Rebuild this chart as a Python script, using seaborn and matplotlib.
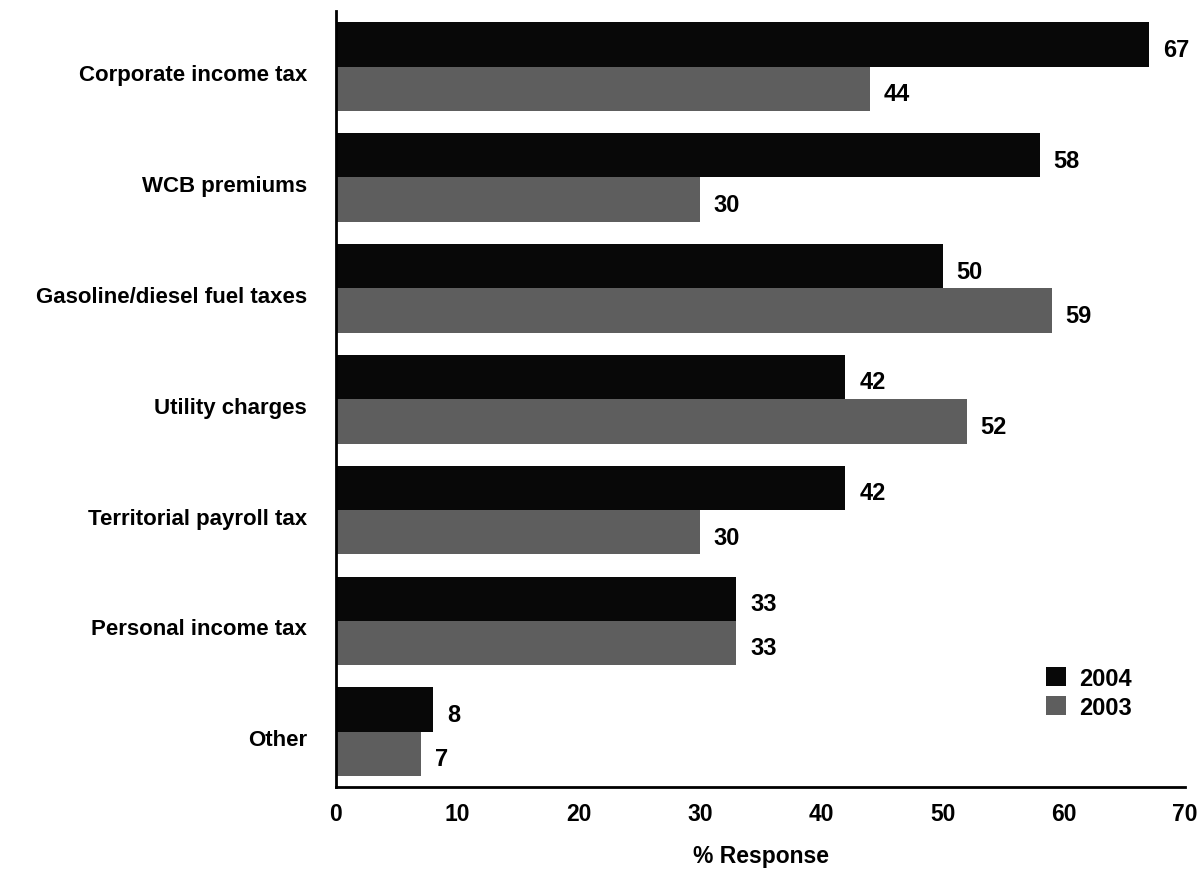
import matplotlib
matplotlib.use("Agg")
import matplotlib.pyplot as plt
import matplotlib.transforms as mtransforms
import seaborn as sns
import pandas as pd

categories = [
    "Corporate income tax",
    "WCB premiums",
    "Gasoline/diesel fuel taxes",
    "Utility charges",
    "Territorial payroll tax",
    "Personal income tax",
    "Other",
]
years = ["2004", "2003"]
values_2004 = [67, 58, 50, 42, 42, 33, 8]
values_2003 = [44, 30, 59, 52, 30, 33, 7]
x_ticks = [0, 10, 20, 30, 40, 50, 60, 70]

df = pd.DataFrame({
    "category": categories * 2,
    "year": [years[0]] * len(categories) + [years[1]] * len(categories),
    "value": values_2004 + values_2003,
})

sns.set_theme(style="white")
plt.rcParams["font.family"] = ["Liberation Sans", "DejaVu Sans"]
plt.rcParams["font.weight"] = "bold"
plt.rcParams["text.color"] = "black"
plt.rcParams["xtick.color"] = "black"
plt.rcParams["ytick.color"] = "black"
plt.rcParams["axes.labelcolor"] = "black"

fig = plt.figure(figsize=(12.02, 8.70), dpi=100)
ax = fig.add_axes([0.2795, 0.094, 0.7065, 0.892])

palette = {"2004": "#080808", "2003": "#5e5e5e"}
sns.barplot(data=df, y="category", x="value", hue="year", order=categories,
            hue_order=years, palette=palette, orient="h", width=0.8,
            saturation=1, ax=ax, edgecolor="none")

# value labels sit a little right of the bar end and slightly below its centre
for container in ax.containers:
    labels = ax.bar_label(container, fmt="%d", padding=10, fontsize=17,
                          fontweight="bold", color="black")
    for t in labels:
        t.xyann = (10, -3.5)

ax.set_xlim(0, 70)
ax.set_ylim(6.5, -0.5)
ax.set_xticks(x_ticks)
ax.set_xticklabels([str(t) for t in x_ticks], fontsize=16.5, fontweight="bold")
ax.tick_params(axis="x", pad=11, length=0)
ax.tick_params(axis="y", pad=21, length=0, labelsize=16)
shift = mtransforms.ScaledTranslation(0, -4 / 72, fig.dpi_scale_trans)
for lbl in ax.get_yticklabels():
    lbl.set_fontweight("bold")
    lbl.set_transform(lbl.get_transform() + shift)
ax.set_ylabel("")
ax.set_xlabel("% Response", fontsize=16.5, fontweight="bold", labelpad=13)

sns.despine(ax=ax, top=True, right=True)
for side in ("left", "bottom"):
    ax.spines[side].set_color("black")
    ax.spines[side].set_linewidth(2)

leg = ax.legend(loc="upper left", bbox_to_anchor=(1046 / 1202, 1 - 668 / 870),
                bbox_transform=fig.transFigure, frameon=False, fontsize=17,
                handlelength=0.85, handleheight=0.85, handletextpad=0.55,
                labelspacing=0.25, borderpad=0, borderaxespad=0)
for t in leg.get_texts():
    t.set_fontweight("bold")

fig.savefig("out.png", dpi=100)
